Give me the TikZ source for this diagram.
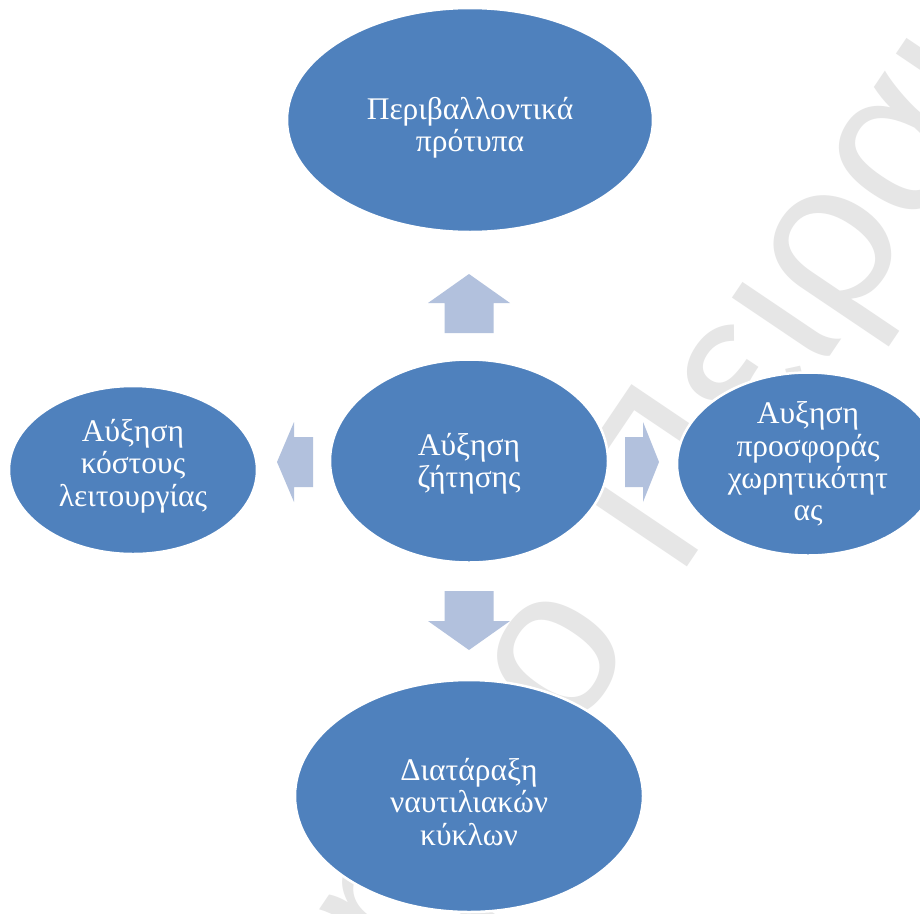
\documentclass[tikz,border=0pt]{standalone}
\usepackage{fontspec}
\setmainfont{Liberation Serif}
\newfontfamily\wmfont{Liberation Sans}
\usetikzlibrary{shapes.geometric,calc}

\definecolor{blobblue}{HTML}{4F81BD}
\definecolor{arrowfill}{HTML}{B2C1DD}
\definecolor{wmgray}{HTML}{E6E6E6}

\tikzset{
  blob/.style={ellipse, fill=blobblue, draw=white, line width=2.5pt, inner sep=0pt},
  blobtext/.style={text=white, align=center, inner sep=0pt,
    font=\fontsize{31.5}{32.3}\selectfont},
  wmark/.style={text=wmgray, inner sep=0pt, rotate=56,
    font=\wmfont\fontsize{215}{215}\selectfont},
  pics/blockarr/.style n args={4}{code={
    \fill[arrowfill] (0,-#2) -- ({#1-#4},-#2) -- ({#1-#4},-#3) -- (#1,0)
      -- ({#1-#4},#3) -- ({#1-#4},#2) -- (0,#2) -- cycle;}}
}

\begin{document}
\begin{tikzpicture}[x=1pt, y=-1pt]
  \useasboundingbox (0,0) rectangle (920,913);
  \clip (0,0) rectangle (920,913);
  \fill[white] (0,0) rectangle (920,913);

  % background watermark
  \node[wmark, anchor=base east] (wmleft) at (637.5,641.3) {Πανεπιστήμιο};
  \node[wmark, anchor=base west] (wmright) at (677.6,581.8) {Πειραιώς};

  % block arrows around the centre
  \pic[rotate=90]  at (469,333) {blockarr={59}{24.5}{41}{29}};
  \pic[rotate=-90] at (469,591) {blockarr={59}{24.5}{41}{29}};
  \pic[rotate=180] at (313,462) {blockarr={36}{25}{40}{17}};
  \pic             at (625,462) {blockarr={34}{25}{40}{16}};

  % ellipses
  \node[blob, minimum width=366, minimum height=224] (top) at (470,120) {};
  \node[blob, minimum width=278, minimum height=203] (centre) at (469,461) {};
  \node[blob, minimum width=248, minimum height=168] (left) at (133,470) {};
  \node[blob, minimum width=262, minimum height=183] (right) at (808,464) {};
  \node[blob, minimum width=348, minimum height=232] (bottom) at (469,796) {};

  % labels
  \node[blobtext] (toptxt) at ($(top)+(0,8)$) {Περιβαλλοντικά\\πρότυπα};
  \node[blobtext] (centretxt) at ($(centre)+(0,3)$) {Αύξηση\\ζήτησης};
  \node[blobtext] (lefttxt) at ($(left)+(0,-4)$) {Αύξηση\\κόστους\\λειτουργίας};
  \node[blobtext] (righttxt) at (right) {Αυξηση\\προσφοράς\\χωρητικότητ\\ας};
  \node[blobtext] (bottomtxt) at ($(bottom)+(0,6)$) {Διατάραξη\\ναυτιλιακών\\κύκλων};
\end{tikzpicture}
\end{document}
